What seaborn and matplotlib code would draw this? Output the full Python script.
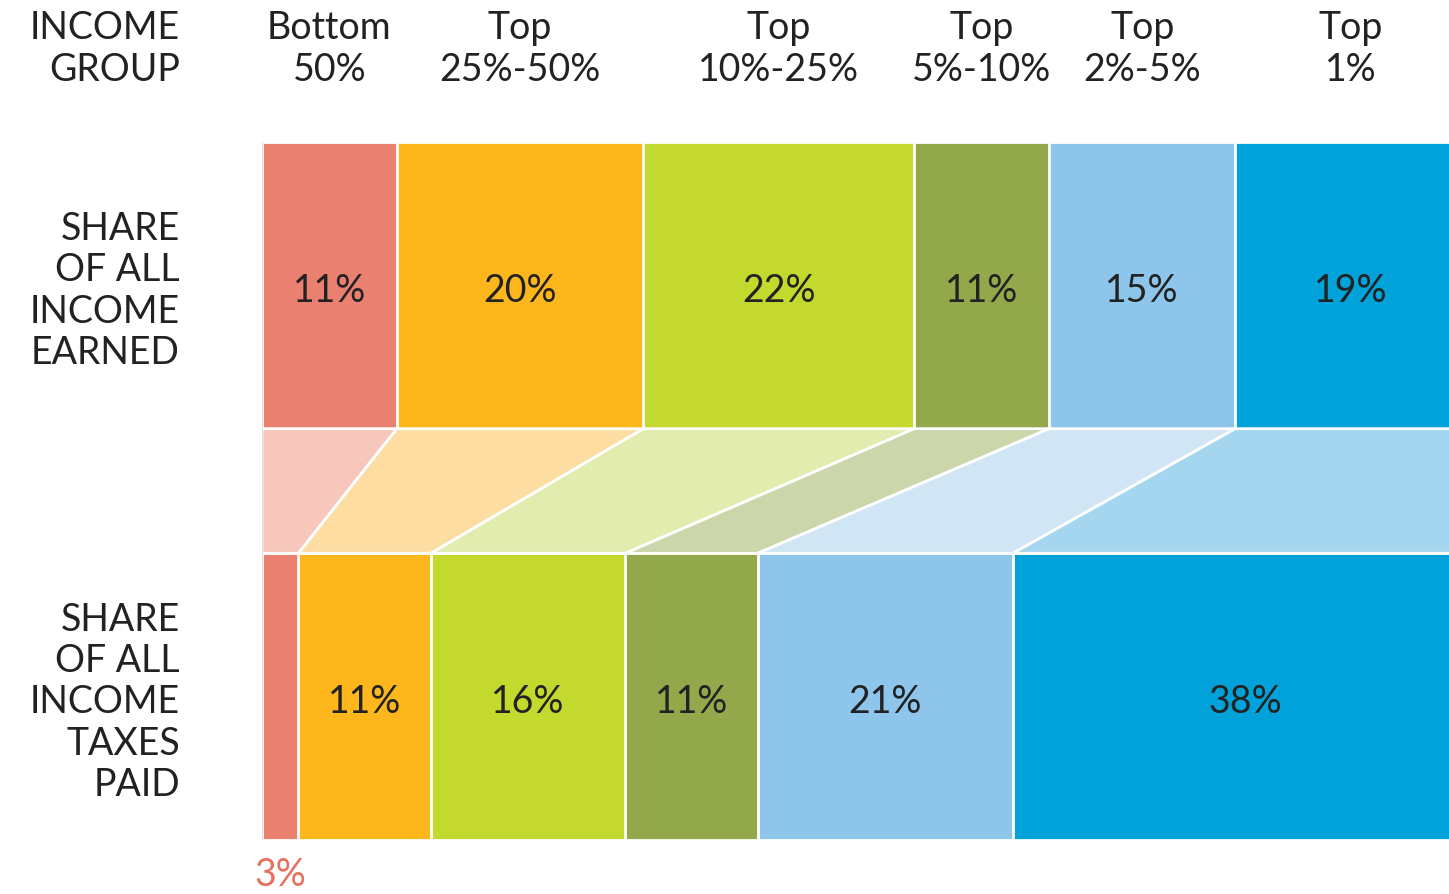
import numpy as np
import matplotlib
matplotlib.use('Agg')
import matplotlib.pyplot as plt
from matplotlib.transforms import blended_transform_factory
import seaborn as sns

# data
groups = ['Bottom\n50%', 'Top\n25%-50%', 'Top\n10%-25%', 'Top\n5%-10%', 'Top\n2%-5%', 'Top\n1%']
income_share = [11.1, 20.3, 22.3, 11.1, 15.3, 19.0]
tax_share = [3.0, 10.9, 16.0, 10.9, 21.0, 38.2]
rows = ['SHARE\nOF ALL\nINCOME\nEARNED', 'SHARE\nOF ALL\nINCOME\nTAXES\nPAID']

colors = ['#E98070', '#FDB71C', '#C4D92E', '#93A84B', '#8EC5EA', '#00A2D9']
band_colors = ['#F6C7BA', '#FDDDA1', '#E2ECAE', '#CBD6AA', '#D0E6F5', '#A5D6EF']

sns.set_theme(style='white')
plt.rcParams['font.family'] = ['Lato', 'DejaVu Sans']
txt = '#222222'
fs = 27
ls = 1.18
dy = 0.014  # nudge text down a few pixels (data units, y inverted)

fig = plt.figure(figsize=(14.49, 8.94), dpi=100)
ax = fig.add_axes([262 / 1449, 1 - 840 / 894, 1 - 262 / 1449, (840 - 142) / 894])

inc_cum = np.cumsum(income_share)
tax_cum = np.cumsum(tax_share)
bar_w = 0.697

# stacked bars: draw cumulative totals from longest to shortest
for i in reversed(range(len(groups))):
    sns.barplot(x=[inc_cum[i], tax_cum[i]], y=['a', 'b'], orient='h', color=colors[i],
                saturation=1, width=bar_w, edgecolor='white', linewidth=2, ax=ax)

# connecting bands
y0 = bar_w / 2
y1 = 1 - bar_w / 2
inc_left = np.concatenate([[0], inc_cum[:-1]])
tax_left = np.concatenate([[0], tax_cum[:-1]])
for i in range(len(groups)):
    ax.fill([inc_left[i], inc_cum[i], tax_cum[i], tax_left[i]], [y0, y0, y1, y1],
            facecolor=band_colors[i], edgecolor='white', linewidth=2, zorder=1)

ax.plot([0, 0], [-bar_w / 2, 1 + bar_w / 2], color='#d8d8d8', lw=1.2, zorder=5)

ax.set_xlim(0, 97.7)
ax.set_ylim(1 + bar_w / 2, -bar_w / 2)
ax.set_axis_off()

# value labels in the bars
for i in range(len(groups)):
    ax.text((inc_left[i] + inc_cum[i]) / 2, dy, f'{income_share[i]:.0f}%', ha='center', va='center',
            fontsize=fs, color=txt)
    if i > 0:
        ax.text((tax_left[i] + tax_cum[i]) / 2, 1 + dy, f'{tax_share[i]:.0f}%', ha='center', va='center',
                fontsize=fs, color=txt)
ax.text((tax_left[0] + tax_cum[0]) / 2, 1 + bar_w / 2 + 0.085, f'{tax_share[0]:.0f}%', ha='center',
        va='center', fontsize=fs, color='#E8705F', clip_on=False)

# column headers
tr_head = blended_transform_factory(ax.transData, fig.transFigure)
for i, g in enumerate(groups):
    ax.text((inc_left[i] + inc_cum[i]) / 2, 1 - 49 / 894, g, transform=tr_head, ha='center', va='center',
            fontsize=fs, color=txt, linespacing=1.2, clip_on=False)
fig.text(180 / 1449, 1 - 49 / 894, 'INCOME\nGROUP', ha='right', va='center', fontsize=fs, color=txt,
         linespacing=1.2)

# row labels
tr_row = blended_transform_factory(fig.transFigure, ax.transData)
for j, r in enumerate(rows):
    ax.text(180 / 1449, j + dy, r, transform=tr_row, ha='right', va='center', fontsize=fs, color=txt,
            linespacing=ls, clip_on=False)

fig.savefig('out.png', dpi=100)
